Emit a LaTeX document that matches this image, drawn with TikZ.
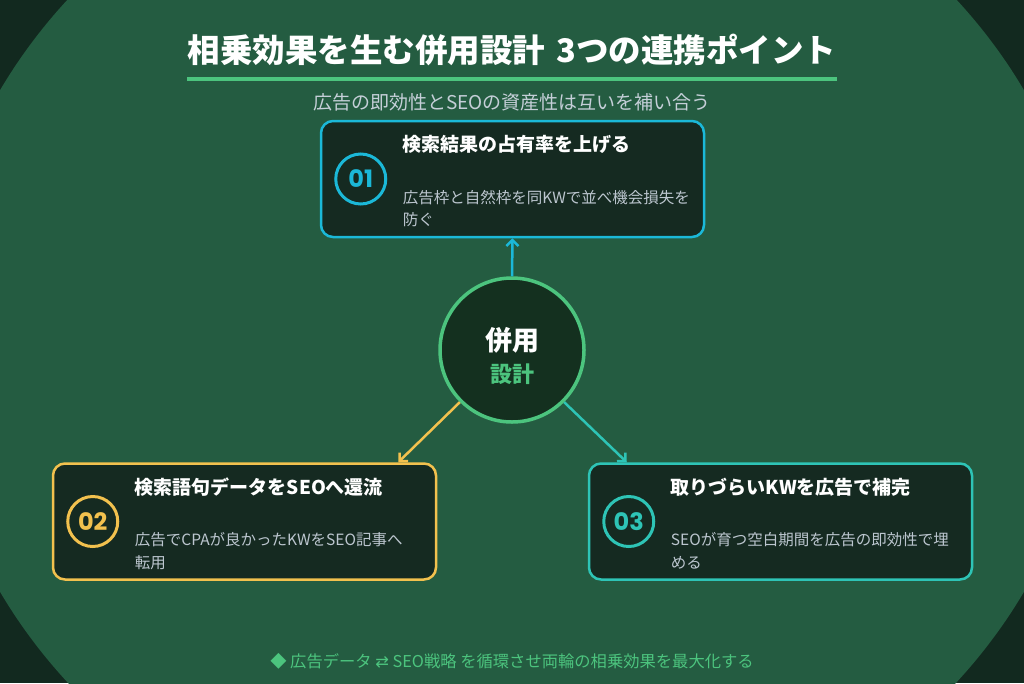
\documentclass[tikz,border=0pt]{standalone}
\usepackage{fontspec}
\setmainfont{Noto Sans CJK JP}
\newfontfamily\numfont{Poppins}
\newfontfamily\symfont{DejaVu Sans}
\usetikzlibrary{arrows.meta,positioning}
\definecolor{bgdark}{HTML}{12291F}
\definecolor{bggreen}{HTML}{245C41}
\definecolor{cardfill}{HTML}{152A21}
\definecolor{hubfill}{HTML}{14301F}
\definecolor{accent}{HTML}{4CC47E}
\definecolor{cyan}{HTML}{1BB8D8}
\definecolor{gold}{HTML}{F2C14E}
\definecolor{teal}{HTML}{2EC4B6}
\definecolor{subgray}{HTML}{C5CFD8}
\definecolor{descgray}{HTML}{BCC6CF}
\tikzset{
  card/.style={draw=#1,line width=2.5pt,rounded corners=12pt,fill=cardfill,
    minimum width=383pt,minimum height=116pt,inner sep=0pt},
  num/.style={circle,draw=#1,line width=3pt,minimum size=50pt,inner sep=0pt,
    text=#1,font=\numfont\bfseries\fontsize{24}{24}\selectfont},
  head/.style={anchor=west,inner sep=0pt,text=white,
    font=\bfseries\fontsize{19}{20}\selectfont},
  desc/.style={anchor=north west,inner sep=0pt,align=left,text=descgray,
    font=\fontsize{15.5}{22.5}\selectfont},
  link/.style={draw=#1,line width=2.5pt,-{Straight Barb[length=6pt,width=12pt]}}
}
\begin{document}
\begin{tikzpicture}[x=1pt,y=-1pt]
\useasboundingbox (0,0) rectangle (1024,683);
\begin{scope}
\clip (0,0) rectangle (1024,683);
\fill[bgdark] (0,0) rectangle (1024,683);
\fill[bggreen] (512,341) ellipse [x radius=581, y radius=530];
\end{scope}

% title
\node[text=white,inner xsep=0pt,font=\bfseries\fontsize{32.5}{32}\selectfont]
  (title) at (512,50) {相乗効果を生む併用設計\hspace{0.35em}3つの連携ポイント};
\draw[accent,line width=4pt] ([yshift=-10pt]title.south west)
  -- ([yshift=-10pt]title.south east);
\node[text=subgray,font=\fontsize{19}{20}\selectfont] (sub) at (512,102)
  {広告の即効性とSEOの資産性は互いを補い合う};

% hub
\node[circle,draw=accent,line width=3.5pt,fill=hubfill,minimum size=144pt]
  (hub) at (512,350) {};
\node[text=white,font=\bfseries\fontsize{27}{27}\selectfont]
  (hubtop) at ([yshift=10pt]hub.center) {併用};
\node[text=accent,font=\bfseries\fontsize{22}{22}\selectfont]
  (hubbot) at ([yshift=-24pt]hub.center) {設計};

% cards
\node[card=cyan] (p1) at (512.5,179) {};
\node[num=cyan] (n1) at ([xshift=41pt]p1.west) {01};
\node[head] (t1) at ([xshift=83pt,yshift=-25pt]p1.north west) {検索結果の占有率を上げる};
\node[desc] (d1) at ([xshift=83pt,yshift=-70pt]p1.north west)
  {広告枠と自然枠を同KWで並べ機会損失を\\防ぐ};

\node[card=gold] (p2) at (244.5,521.5) {};
\node[num=gold] (n2) at ([xshift=41pt]p2.west) {02};
\node[head] (t2) at ([xshift=83pt,yshift=-25pt]p2.north west) {検索語句データをSEOへ還流};
\node[desc] (d2) at ([xshift=83pt,yshift=-70pt]p2.north west)
  {広告でCPAが良かったKWをSEO記事へ\\転用};

\node[card=teal] (p3) at (780.5,521.5) {};
\node[num=teal] (n3) at ([xshift=41pt]p3.west) {03};
\node[head] (t3) at ([xshift=83pt,yshift=-25pt]p3.north west) {取りづらいKWを広告で補完};
\node[desc] (d3) at ([xshift=83pt,yshift=-70pt]p3.north west)
  {SEOが育つ空白期間を広告の即効性で埋\\める};

\draw[link=cyan] (hub.north) -- (p1.south);
\draw[link=gold] (hub.-135) -- ([xshift=-39pt]p2.north east);
\draw[link=teal] (hub.-45) -- ([xshift=39pt]p3.north west);

% footer
\node[text=accent,font=\fontsize{16.3}{16}\selectfont] (foot) at (512,661)
  {◆ 広告データ {\symfont ⇄} SEO戦略 を循環させ両輪の相乗効果を最大化する};
\end{tikzpicture}
\end{document}
